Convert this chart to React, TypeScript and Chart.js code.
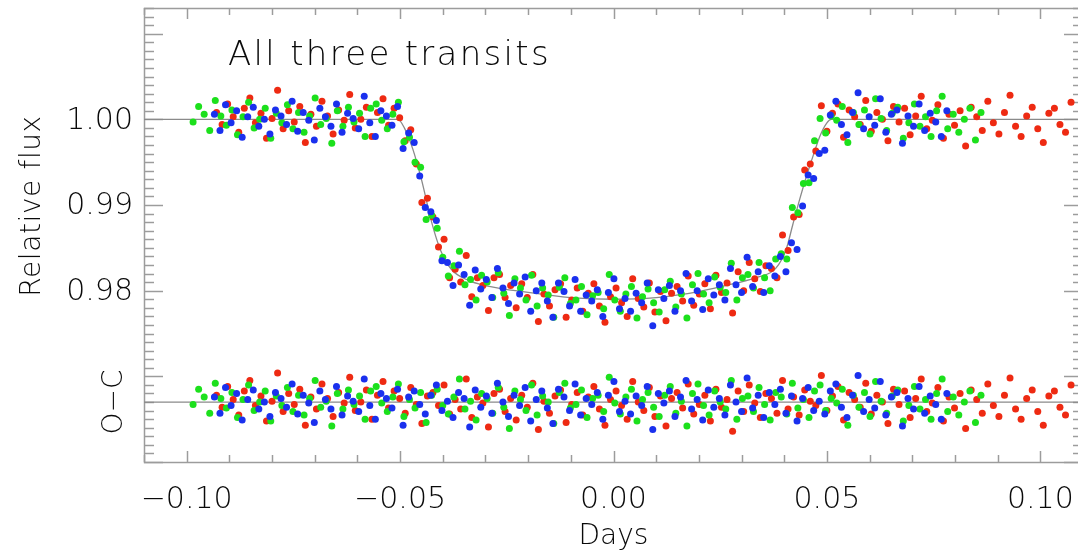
import React, { useEffect, useRef } from 'react';
import { Chart, registerables } from 'chart.js';

Chart.register(...registerables);

// ---------- data (days, relative flux, O-C in parts per thousand) ----------
const RED_T = [-0.0930,-0.0917,-0.0904,-0.0891,-0.0878,-0.0865,-0.0852,-0.0839,-0.0826,-0.0813,-0.0800,-0.0787,-0.0774,-0.0761,-0.0748,-0.0735,-0.0722,-0.0709,-0.0696,-0.0683,-0.0670,-0.0657,-0.0644,-0.0631,-0.0618,-0.0605,-0.0592,-0.0579,-0.0566,-0.0553,-0.0540,-0.0527,-0.0514,-0.0501,-0.0488,-0.0475,-0.0462,-0.0449,-0.0436,-0.0423,-0.0410,-0.0397,-0.0384,-0.0371,-0.0358,-0.0345,-0.0332,-0.0319,-0.0306,-0.0293,-0.0280,-0.0267,-0.0254,-0.0241,-0.0228,-0.0215,-0.0202,-0.0189,-0.0176,-0.0163,-0.0150,-0.0137,-0.0124,-0.0111,-0.0098,-0.0085,-0.0072,-0.0059,-0.0046,-0.0033,-0.0020,-0.0007,0.0006,0.0019,0.0032,0.0045,0.0058,0.0071,0.0084,0.0097,0.0110,0.0123,0.0136,0.0149,0.0162,0.0175,0.0188,0.0201,0.0214,0.0227,0.0240,0.0253,0.0266,0.0279,0.0292,0.0305,0.0318,0.0331,0.0344,0.0357,0.0370,0.0383,0.0396,0.0409,0.0422,0.0435,0.0448,0.0461,0.0474,0.0487,0.0500,0.0513,0.0526,0.0539,0.0552,0.0565,0.0578,0.0591,0.0604,0.0617,0.0630,0.0643,0.0656,0.0669,0.0682,0.0695,0.0708,0.0721,0.0734,0.0747,0.0760,0.0773,0.0786,0.0799,0.0812,0.0825,0.0838,0.0851,0.0864,0.0877,0.0890,0.0903,0.0916,0.0929,0.0942,0.0955,0.0968,0.0981,0.0994,0.1007,0.1020,0.1033,0.1046,0.1059,0.1072];
const RED_FLUX = [1.0008,0.9994,1.0018,1.0003,0.9985,1.0013,1.0025,0.9996,1.0007,0.9978,1.0001,1.0034,0.9989,1.0010,0.9997,1.0015,0.9973,1.0006,0.9992,1.0021,1.0004,0.9983,1.0011,0.9999,1.0029,0.9990,1.0000,1.0014,0.9980,1.0008,1.0024,0.9993,1.0013,1.0002,0.9975,0.9988,0.9948,0.9903,0.9908,0.9886,0.9851,0.9860,0.9815,0.9825,0.9810,0.9841,0.9793,0.9815,0.9806,0.9777,0.9815,0.9819,0.9792,0.9806,0.9780,0.9808,0.9792,0.9819,0.9764,0.9796,0.9782,0.9801,0.9808,0.9769,0.9789,0.9803,0.9776,0.9797,0.9808,0.9782,0.9763,0.9793,0.9803,0.9786,0.9770,0.9814,0.9791,0.9781,0.9809,0.9775,0.9799,0.9765,0.9797,0.9805,0.9788,0.9817,0.9783,0.9796,0.9808,0.9779,0.9818,0.9798,0.9809,0.9774,0.9822,0.9800,0.9833,0.9814,0.9799,0.9829,0.9826,0.9815,0.9865,0.9847,0.9886,0.9889,0.9941,0.9948,0.9963,1.0016,0.9986,1.0007,1.0018,0.9979,1.0011,1.0003,0.9994,1.0022,0.9986,1.0008,1.0000,0.9975,1.0015,0.9997,1.0013,0.9982,1.0004,1.0027,0.9989,0.9999,1.0017,0.9978,1.0006,0.9993,1.0010,0.9969,1.0014,1.0003,0.9987,1.0021,0.9996,0.9983,1.0008,1.0028,0.9992,0.9980,1.0004,1.0014,0.9989,0.9973,1.0007,1.0013,0.9994,0.9985,1.0020];
const RED_OC = [0.8,-0.6,1.8,0.3,-1.5,1.3,2.5,-0.4,0.7,-2.2,0.1,3.4,-1.1,1.0,-0.3,1.5,-2.7,0.6,-0.8,2.1,0.4,-1.7,1.1,-0.1,2.9,-1.0,0.0,1.4,-2.0,0.8,2.4,-0.7,1.3,0.4,-1.3,1.7,-0.3,-2.5,0.7,1.1,-0.4,2.0,-1.4,0.3,-0.8,2.7,-1.8,0.6,-0.1,-2.9,1.0,1.5,-1.1,0.4,-2.1,0.8,-0.6,2.2,-3.2,0.1,-1.3,0.7,1.4,-2.4,-0.3,1.1,-1.5,0.6,1.8,-0.8,-2.7,0.3,1.3,-0.4,-2.0,2.4,0.0,-1.0,1.7,-1.7,0.7,-2.8,0.4,1.1,-0.7,2.1,-1.4,-0.3,0.8,-2.2,1.5,-0.6,0.3,-3.4,1.3,-1.1,2.0,-0.1,-1.8,1.0,0.4,-1.3,2.5,-0.8,0.6,-1.5,1.4,0.1,-0.4,3.1,-1.0,0.7,1.8,-2.1,1.1,0.3,-0.6,2.2,-1.4,0.8,0.0,-2.5,1.5,-0.3,1.3,-1.8,0.4,2.7,-1.1,-0.1,1.7,-2.2,0.6,-0.7,1.0,-3.1,1.4,0.3,-1.3,2.1,-0.4,-1.7,0.8,2.8,-0.8,-2.0,0.4,1.4,-1.1,-2.7,0.7,1.3,-0.6,-1.5,2.0];

const GREEN_T = [-0.0985,-0.0972,-0.0959,-0.0946,-0.0933,-0.0920,-0.0907,-0.0894,-0.0881,-0.0868,-0.0855,-0.0842,-0.0829,-0.0816,-0.0803,-0.0790,-0.0777,-0.0764,-0.0751,-0.0738,-0.0725,-0.0712,-0.0699,-0.0686,-0.0673,-0.0660,-0.0647,-0.0634,-0.0621,-0.0608,-0.0595,-0.0582,-0.0569,-0.0556,-0.0543,-0.0530,-0.0517,-0.0504,-0.0491,-0.0478,-0.0465,-0.0452,-0.0439,-0.0426,-0.0413,-0.0400,-0.0387,-0.0374,-0.0361,-0.0348,-0.0335,-0.0322,-0.0309,-0.0296,-0.0283,-0.0270,-0.0257,-0.0244,-0.0231,-0.0218,-0.0205,-0.0192,-0.0179,-0.0166,-0.0153,-0.0140,-0.0127,-0.0114,-0.0101,-0.0088,-0.0075,-0.0062,-0.0049,-0.0036,-0.0023,-0.0010,0.0003,0.0016,0.0029,0.0042,0.0055,0.0068,0.0081,0.0094,0.0107,0.0120,0.0133,0.0146,0.0159,0.0172,0.0185,0.0198,0.0211,0.0224,0.0237,0.0250,0.0263,0.0276,0.0289,0.0302,0.0315,0.0328,0.0341,0.0354,0.0367,0.0380,0.0393,0.0406,0.0419,0.0432,0.0445,0.0458,0.0471,0.0484,0.0497,0.0510,0.0523,0.0536,0.0549,0.0562,0.0575,0.0588,0.0601,0.0614,0.0627,0.0640,0.0653,0.0666,0.0679,0.0692,0.0705,0.0718,0.0731,0.0744,0.0757,0.0770,0.0783,0.0796,0.0809,0.0822,0.0835,0.0848,0.0861];
const GREEN_FLUX = [0.9997,1.0015,1.0006,0.9987,1.0022,1.0004,0.9993,1.0011,0.9982,1.0003,1.0020,0.9990,1.0000,1.0013,0.9978,1.0007,0.9996,1.0017,0.9989,1.0008,0.9985,1.0004,1.0025,0.9994,1.0001,0.9972,1.0010,0.9992,1.0014,0.9997,1.0007,0.9980,1.0013,1.0018,0.9999,0.9989,1.0006,1.0020,0.9974,0.9979,0.9950,0.9944,0.9883,0.9888,0.9873,0.9839,0.9817,0.9829,0.9846,0.9807,0.9813,0.9789,0.9818,0.9810,0.9792,0.9821,0.9797,0.9771,0.9814,0.9803,0.9789,0.9818,0.9782,0.9803,0.9795,0.9769,0.9804,0.9815,0.9785,0.9789,0.9805,0.9772,0.9794,0.9798,0.9779,0.9819,0.9789,0.9776,0.9796,0.9805,0.9768,0.9793,0.9802,0.9786,0.9775,0.9801,0.9811,0.9781,0.9796,0.9768,0.9807,0.9820,0.9796,0.9786,0.9816,0.9804,0.9798,0.9832,0.9789,0.9815,0.9819,0.9803,0.9833,0.9815,0.9800,0.9837,0.9843,0.9837,0.9897,0.9891,0.9925,0.9926,0.9975,1.0001,0.9984,1.0004,0.9999,1.0015,0.9973,1.0008,0.9994,1.0011,0.9983,1.0024,1.0001,0.9987,1.0007,1.0014,0.9978,0.9996,1.0018,0.9992,1.0003,0.9980,1.0010,1.0027,0.9989,1.0006,0.9985,1.0000,1.0013,0.9976,1.0008];
const GREEN_OC = [-0.3,1.5,0.6,-1.3,2.2,0.4,-0.7,1.1,-1.8,0.3,2.0,-1.0,0.0,1.3,-2.2,0.7,-0.4,1.7,-1.1,0.8,-1.5,0.4,2.5,-0.6,0.1,-2.8,1.0,-0.8,1.4,-0.3,0.7,-2.0,1.3,1.8,-0.1,-1.1,0.6,2.1,-1.7,0.3,-0.7,1.1,-2.4,0.8,1.5,-0.4,-1.4,0.6,2.7,-0.8,0.1,-2.1,1.0,0.4,-1.3,1.7,-0.6,-3.1,1.3,0.3,-1.0,2.0,-1.5,0.7,0.0,-2.5,1.1,2.2,-0.7,-0.3,1.4,-1.8,0.4,0.8,-1.1,2.9,-0.1,-1.4,0.6,1.5,-2.2,0.3,1.1,-0.6,-1.7,0.8,1.8,-1.3,0.1,-2.8,1.0,2.1,-0.4,-1.5,1.3,0.0,-0.8,2.5,-2.0,0.4,0.7,-1.1,1.7,-0.3,-2.1,1.1,0.6,-1.4,2.2,-0.7,0.3,-1.8,1.3,2.0,-1.0,0.4,-0.1,1.5,-2.7,0.8,-0.6,1.1,-1.7,2.4,0.1,-1.3,0.7,1.4,-2.2,-0.4,1.8,-0.8,0.3,-2.0,1.0,2.7,-1.1,0.6,-1.5,0.0,1.3,-2.4,0.8];

const BLUE_T = [-0.0935,-0.0922,-0.0909,-0.0896,-0.0883,-0.0870,-0.0857,-0.0844,-0.0831,-0.0818,-0.0805,-0.0792,-0.0779,-0.0766,-0.0753,-0.0740,-0.0727,-0.0714,-0.0701,-0.0688,-0.0675,-0.0662,-0.0649,-0.0636,-0.0623,-0.0610,-0.0597,-0.0584,-0.0571,-0.0558,-0.0545,-0.0532,-0.0519,-0.0506,-0.0493,-0.0480,-0.0467,-0.0454,-0.0441,-0.0428,-0.0415,-0.0402,-0.0389,-0.0376,-0.0363,-0.0350,-0.0337,-0.0324,-0.0311,-0.0298,-0.0285,-0.0272,-0.0259,-0.0246,-0.0233,-0.0220,-0.0207,-0.0194,-0.0181,-0.0168,-0.0155,-0.0142,-0.0129,-0.0116,-0.0103,-0.0090,-0.0077,-0.0064,-0.0051,-0.0038,-0.0025,-0.0012,0.0001,0.0014,0.0027,0.0040,0.0053,0.0066,0.0079,0.0092,0.0105,0.0118,0.0131,0.0144,0.0157,0.0170,0.0183,0.0196,0.0209,0.0222,0.0235,0.0248,0.0261,0.0274,0.0287,0.0300,0.0313,0.0326,0.0339,0.0352,0.0365,0.0378,0.0391,0.0404,0.0417,0.0430,0.0443,0.0456,0.0469,0.0482,0.0495,0.0508,0.0521,0.0534,0.0547,0.0560,0.0573,0.0586,0.0599,0.0612,0.0625,0.0638,0.0651,0.0664,0.0677,0.0690,0.0703,0.0716,0.0729,0.0742,0.0755,0.0768,0.0781];
const BLUE_FLUX = [1.0006,0.9987,1.0017,0.9996,1.0010,0.9979,1.0003,1.0014,0.9992,1.0000,0.9983,1.0011,1.0004,0.9994,1.0021,0.9986,1.0008,0.9999,0.9976,1.0013,1.0003,0.9992,1.0018,0.9985,1.0007,1.0001,0.9989,1.0027,0.9996,0.9980,1.0010,1.0004,0.9993,1.0015,0.9966,0.9984,0.9973,0.9934,0.9897,0.9892,0.9882,0.9835,0.9833,0.9806,0.9830,0.9819,0.9783,0.9824,0.9802,0.9813,0.9792,0.9826,0.9803,0.9785,0.9809,0.9796,0.9816,0.9776,0.9800,0.9809,0.9788,0.9769,0.9809,0.9799,0.9782,0.9813,0.9776,0.9795,0.9788,0.9801,0.9770,0.9798,0.9814,0.9779,0.9791,0.9776,0.9797,0.9786,0.9809,0.9759,0.9801,0.9791,0.9806,0.9776,0.9800,0.9820,0.9788,0.9800,0.9778,0.9814,0.9795,0.9807,0.9789,0.9826,0.9807,0.9798,0.9839,0.9805,0.9822,0.9798,0.9829,0.9817,0.9840,0.9822,0.9856,0.9848,0.9899,0.9935,0.9931,0.9960,0.9964,1.0005,1.0021,0.9994,0.9982,1.0008,1.0031,0.9989,1.0003,0.9993,1.0024,0.9985,1.0006,1.0011,0.9972,1.0004,0.9992,1.0018,0.9987,1.0007,0.9997,0.9980,1.0010];
const BLUE_OC = [0.6,-1.3,1.7,-0.4,1.0,-2.1,0.3,1.4,-0.8,0.0,-1.7,1.1,0.4,-0.6,2.1,-1.4,0.8,-0.1,-2.4,1.3,0.3,-0.8,1.8,-1.5,0.7,0.1,-1.1,2.7,-0.4,-2.0,1.0,0.4,-0.7,1.5,-2.7,0.6,1.3,-0.3,-1.4,0.8,2.0,-1.0,0.1,-1.8,1.1,0.4,-2.9,1.4,-0.6,0.7,-1.3,2.2,0.0,-1.7,0.8,-0.4,1.7,-2.2,0.3,1.3,-0.7,-2.5,1.5,0.6,-1.0,2.1,-1.5,0.4,-0.3,1.1,-2.0,0.8,2.4,-1.1,0.1,-1.4,0.7,-0.4,1.8,-3.2,1.0,-0.1,1.3,-1.7,0.6,2.5,-0.8,0.3,-2.1,1.4,-0.6,0.4,-1.5,2.0,0.0,-1.1,2.8,-0.7,0.8,-1.8,1.1,-0.3,1.5,-1.3,0.7,-2.2,0.4,1.7,-1.0,0.1,-1.4,1.3,2.1,-0.6,-1.8,0.8,3.1,-1.1,0.3,-0.7,2.4,-1.5,0.6,1.1,-2.8,0.4,-0.8,1.8,-1.3,0.7,-0.3,-2.0,1.0];

// transit model curve
const MODEL_T = [-0.110,-0.0505,-0.0490,-0.0470,-0.0450,-0.0425,-0.0405,-0.0380,-0.0340,-0.0300,-0.0200,-0.0100,0.0000,0.0100,0.0200,0.0280,0.0340,0.0380,0.0405,0.0420,0.0437,0.0453,0.0468,0.0484,0.0500,0.0510,0.110];
const MODEL_FLUX = [1.0000,1.0000,0.9990,0.9965,0.9930,0.9878,0.9847,0.9825,0.9812,0.9806,0.9798,0.9792,0.9790,0.9792,0.9799,0.9808,0.9816,0.9826,0.9849,0.9877,0.9908,0.9935,0.9958,0.9981,0.9996,1.0000,1.0000];

// O-C panel: residuals are drawn around this flux level
const OC_ZERO = 0.967;
const OC_LINE_T = [-0.11, 0.11];

// axes
const X_MIN = -0.11;
const X_MAX = 0.11;
const Y_MIN = 0.96;
const Y_MAX = 1.013;
const X_TICKS = [-0.10, -0.05, 0.0, 0.05, 0.10];
const X_TICK_LABELS = ['\u22120.10', '\u22120.05', '0.00', '0.05', '0.10'];
const Y_TICKS = [0.98, 0.99, 1.00];
const Y_TICK_LABELS = ['0.98', '0.99', '1.00'];
const TITLE = 'All three transits';
const X_TITLE = 'Days';
const Y_TITLE = 'Relative flux';
const OC_TITLE = 'O\u2212C';

const RED = '#ee2a12';
const GREEN = '#1ce01c';
const BLUE = '#1a30ee';
const AXIS_COLOR = '#9c9c9c';
const TEXT_COLOR = '#0a0a0a';
const FONT = '"DejaVu Sans", "Liberation Sans", sans-serif';
const WEIGHT = '200';

const pts = (t: number[], f: number[]) => t.map((x, i) => ({ x, y: f[i] }));
const ocPts = (t: number[], r: number[]) => t.map((x, i) => ({ x, y: OC_ZERO + r[i] / 1000 }));

const framePlugin = {
  id: 'idlFrame',
  beforeDatasetsDraw(chart: any) {
    const { ctx, chartArea: a, scales } = chart;
    const xs = scales.x;
    const ys = scales.y;
    ctx.save();
    ctx.strokeStyle = AXIS_COLOR;
    ctx.lineWidth = 1.5;
    const seg = (x1: number, y1: number, x2: number, y2: number) => {
      ctx.beginPath();
      ctx.moveTo(x1, y1);
      ctx.lineTo(x2, y2);
      ctx.stroke();
    };
    ctx.strokeRect(a.left + 0.5, a.top + 0.5, a.right - a.left, a.bottom - a.top);
    for (let i = -11; i <= 11; i++) {
      const px = Math.round(xs.getPixelForValue(i / 100)) + 0.5;
      const len = i % 5 === 0 ? 11 : 7;
      seg(px, a.bottom, px, a.bottom - len);
      seg(px, a.top, px, a.top + len);
    }
    for (let i = 960; i <= 1013; i++) {
      const py = Math.round(ys.getPixelForValue(i / 1000)) + 0.5;
      const len = i % 10 === 0 ? 19 : 10;
      seg(a.left, py, a.left + len, py);
      seg(a.right, py, a.right - len, py);
    }
    ctx.restore();
  },
  afterDraw(chart: any) {
    const { ctx, chartArea: a, scales } = chart;
    const xs = scales.x;
    const ys = scales.y;
    ctx.save();
    ctx.fillStyle = TEXT_COLOR;
    // x tick labels
    ctx.font = `${WEIGHT} 30px ${FONT}`;
    ctx.textAlign = 'center';
    ctx.textBaseline = 'alphabetic';
    X_TICKS.forEach((v, i) => {
      ctx.fillText(X_TICK_LABELS[i], xs.getPixelForValue(v), 508);
    });
    // y tick labels
    ctx.textAlign = 'right';
    ctx.textBaseline = 'middle';
    Y_TICKS.forEach((v, i) => {
      ctx.fillText(Y_TICK_LABELS[i], 133, ys.getPixelForValue(v) + 1.5);
    });
    // axis titles
    ctx.font = `${WEIGHT} 28px ${FONT}`;
    ctx.textAlign = 'center';
    ctx.textBaseline = 'alphabetic';
    ctx.fillText(X_TITLE, (a.left + a.right) / 2, 544);
    ctx.save();
    (ctx as any).letterSpacing = '0.6px';
    ctx.translate(40, 206);
    ctx.rotate(-Math.PI / 2);
    ctx.fillText(Y_TITLE, 0, 0);
    ctx.restore();
    ctx.save();
    ctx.translate(122, ys.getPixelForValue(OC_ZERO));
    ctx.rotate(-Math.PI / 2);
    ctx.fillText(OC_TITLE, 0, 0);
    ctx.restore();
    // title inside plot
    ctx.font = `${WEIGHT} 34px ${FONT}`;
    ctx.textAlign = 'left';
    (ctx as any).letterSpacing = '2.3px';
    ctx.fillText(TITLE, 228, 65);
    ctx.restore();
  },
};

export default function App() {
  const ref = useRef<HTMLCanvasElement | null>(null);
  useEffect(() => {
    if (!ref.current) return;
    const dot = (color: string, data: any[], order: number) => ({
      type: 'scatter' as const,
      data,
      backgroundColor: color,
      borderWidth: 0,
      pointRadius: 3.5,
      pointHoverRadius: 3.5,
      showLine: false,
      order,
    });
    const chart = new Chart(ref.current, {
      type: 'scatter',
      data: {
        datasets: [
          {
            type: 'line',
            data: pts(MODEL_T, MODEL_FLUX),
            borderColor: '#8a8a8a',
            borderWidth: 1.3,
            pointRadius: 0,
            cubicInterpolationMode: 'monotone',
            fill: false,
            order: 10,
          } as any,
          {
            type: 'line',
            data: OC_LINE_T.map((x) => ({ x, y: OC_ZERO })),
            borderColor: '#8a8a8a',
            borderWidth: 1.3,
            pointRadius: 0,
            fill: false,
            order: 10,
          } as any,
          dot(RED, pts(RED_T, RED_FLUX), 4),
          dot(RED, ocPts(RED_T, RED_OC), 4),
          dot(GREEN, pts(GREEN_T, GREEN_FLUX), 3),
          dot(GREEN, ocPts(GREEN_T, GREEN_OC), 3),
          dot(BLUE, pts(BLUE_T, BLUE_FLUX), 2),
          dot(BLUE, ocPts(BLUE_T, BLUE_OC), 2),
        ],
      },
      options: {
        responsive: false,
        maintainAspectRatio: false,
        animation: false,
        devicePixelRatio: 1,
        layout: { padding: { left: 144, top: 8, right: 7, bottom: 93 } },
        scales: {
          x: { type: 'linear', min: X_MIN, max: X_MAX, display: false },
          y: { type: 'linear', min: Y_MIN, max: Y_MAX, display: false },
        },
        plugins: {
          legend: { display: false },
          tooltip: { enabled: false },
        },
      },
      plugins: [framePlugin],
    } as any);
    return () => chart.destroy();
  }, []);
  return (
    <div
      style={{
        position: 'absolute',
        left: 0,
        top: 0,
        width: 1078,
        height: 555,
        overflow: 'hidden',
        background: '#ffffff',
      }}
    >
      <canvas ref={ref} width={1090} height={555} style={{ display: 'block' }} />
    </div>
  );
}
